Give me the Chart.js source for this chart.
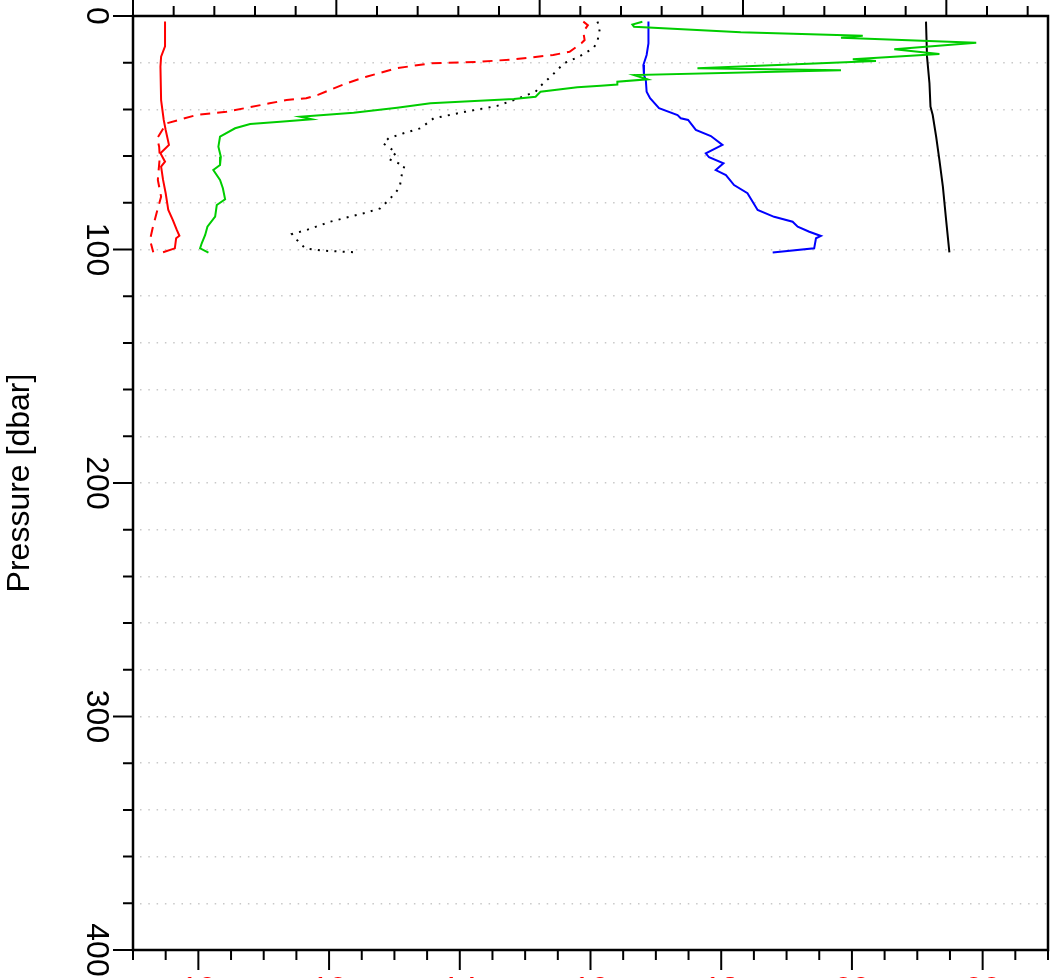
<!DOCTYPE html>
<html><head><meta charset="utf-8">
<script src="https://cdn.jsdelivr.net/npm/chart.js@4/dist/chart.umd.min.js"></script>
<style>html,body{margin:0;padding:0;background:#fff;overflow:hidden}canvas{display:block}</style>
</head><body>
<canvas id="c" width="1056" height="978"></canvas>
<script>
// ---- tick labels ----
const yTickLabels = [0, 100, 200, 300, 400];
const bottomTickLabels = [10, 12, 14, 16, 18, 20, 22];
const topTickLabels = [30, 31, 32, 33, 34];
const yTitle = 'Pressure [dbar]';

// ---- series (bottom axis) ----
const redSolidX = [9.49,9.49,9.43,9.42,9.43,9.47,9.50,9.55,9.42,9.49,9.43,9.46,9.50,9.54,9.61,9.67,9.71,9.66,9.64,9.46];
const redSolidP = [2.4,13,17.4,21.7,36,44.5,48.8,55.2,58.8,62.4,64.5,70.2,75.9,83.1,87.4,91.6,94.1,95.2,99.5,101.2];

const redDashX = [15.89,15.96,15.89,15.91,15.86,15.68,15.43,14.81,14.31,13.54,13.03,12.57,12.27,12.01,11.83,11.65,11.35,11.09,10.43,9.97,9.51,9.37,9.40,9.41,9.38,9.43,9.36,9.30,9.26,9.31];
const redDashP = [2.4,3.9,6.7,10.3,11.7,15.3,16.7,18.6,19.6,20.3,22.4,26,28.8,31.7,33.8,35.2,36,37.4,41,42.4,46,52.4,56,60.3,70.2,77.4,84.5,90.9,95.9,101.2];

// ---- series (top axis) ----
const greenX = [32.505,32.456,32.464,32.989,33.589,33.482,34.147,33.744,33.966,33.540,33.654,32.776,33.482,32.464,32.530,32.382,32.382,32.300,32.185,32.004,31.980,31.873,31.463,31.299,31.085,30.822,30.880,30.724,30.576,30.502,30.428,30.420,30.432,30.428,30.395,30.428,30.442,30.453,30.412,30.404,30.366,30.355,30.338,30.330,30.371];
const greenP = [2.44,3.64,4.58,6.98,8.44,9.29,11.43,14.26,16.27,18.54,19.27,22.40,23.25,25.27,27.11,28.14,29.34,29.85,30.54,32.42,34.56,35.55,37.39,39.27,41.41,43.13,44.24,45.27,46.25,48.09,51.69,55.97,60.26,63.81,65.95,70.24,73.79,78.5,80.94,85.95,90.24,93.79,97.34,99.49,101.37];

const dotX = [32.284,32.296,32.284,32.264,32.193,32.119,32.062,32.004,31.980,31.873,31.791,31.635,31.479,31.413,31.331,31.257,31.230,31.266,31.295,31.262,31.335,31.323,31.312,31.290,31.216,31.134,30.970,30.855,30.782,30.806,30.847,30.937,31.093];
const dotP = [2.4,5.3,11,13.8,17.4,20.3,25.3,30,32.4,36,38.5,41,43.8,48.1,50.2,52.4,54.5,56.7,58.5,61.4,64.2,67.4,73.1,75.9,82.4,84.5,88.1,91.6,93.4,95.9,99.5,100.5,101.2];

const blueX = [32.535,32.535,32.526,32.510,32.513,32.522,32.526,32.543,32.587,32.678,32.694,32.730,32.768,32.842,32.899,32.817,32.833,32.904,32.866,32.916,32.956,33.022,33.072,33.153,33.244,33.269,33.326,33.383,33.359,33.350,33.146];
const blueP = [2.4,11.7,16.7,21,25.3,27.4,32.4,35.2,39.5,42.4,43.8,44.5,48.8,51.4,55.2,58.8,60.5,63.1,66,68.1,72.4,75.9,83.1,86,88.1,90.2,92.4,94.2,95.2,99.5,101.3];

const blackX = [33.900,33.905,33.917,33.922,33.933,33.950,33.966,33.983,33.999,34.015];
const blackP = [2.4,17.4,28.8,38.8,42.4,51.7,61.7,73.1,87.4,101.2];

// ---- chart ----
const FONT = "'Liberation Sans', Arial, Helvetica, sans-serif";
const pts = (xs, ps) => xs.map((x, i) => ({x: x, y: ps[i]}));
function ds(xs, ps, color, axis, dash) {
  return {
    data: pts(xs, ps), xAxisID: axis, yAxisID: 'y',
    borderColor: color, borderWidth: 2, borderDash: dash || [],
    pointRadius: 0, tension: 0, fill: false
  };
}

const axesPlugin = {
  id: 'axesBox',
  afterDraw(chart) {
    const {ctx, chartArea: a, scales} = chart;
    ctx.save();
    ctx.strokeStyle = '#000';
    ctx.lineCap = 'butt';
    ctx.lineWidth = 2;
    ctx.beginPath();
    for (let v = 0; v <= 400; v += 20) {
      const y = scales.y.getPixelForValue(v);
      const len = yTickLabels.includes(v) ? 20 : 10;
      ctx.moveTo(a.left - len, y); ctx.lineTo(a.left, y);
    }
    for (let i = 0; i <= 28; i++) {
      const v = 9 + i * 0.5;
      const x = scales.x.getPixelForValue(v);
      const len = bottomTickLabels.includes(v) ? 20 : 10;
      ctx.moveTo(x, a.bottom); ctx.lineTo(x, a.bottom + len);
    }
    for (let i = 0; i <= 22; i++) {
      const v = 30 + i * 0.2;
      const x = scales.x2.getPixelForValue(v);
      const len = (i % 5 === 0) ? 20 : 10;
      ctx.moveTo(x, a.top - len); ctx.lineTo(x, a.top);
    }
    ctx.stroke();
    ctx.lineWidth = 2.5;
    ctx.strokeRect(a.left, a.top, a.right - a.left, a.bottom - a.top);
    ctx.restore();
  }
};

new Chart(document.getElementById('c').getContext('2d'), {
  type: 'line',
  data: {
    datasets: [
      ds(redSolidX, redSolidP, '#ff0000', 'x'),
      ds(redDashX, redDashP, '#ff0000', 'x', [10, 7]),
      ds(greenX, greenP, '#00cd00', 'x2'),
      ds(dotX, dotP, '#000000', 'x2', [2, 6.3]),
      ds(blueX, blueP, '#0000ff', 'x2'),
      ds(blackX, blackP, '#000000', 'x2')
    ]
  },
  options: {
    responsive: false, animation: false, devicePixelRatio: 1,
    layout: {padding: {left: 0, right: 8, top: 0, bottom: 0}},
    plugins: {legend: {display: false}, tooltip: {enabled: false}},
    scales: {
      x: {
        type: 'linear', position: 'bottom', min: 9, max: 23,
        afterBuildTicks: s => { s.ticks = bottomTickLabels.map(v => ({value: v})); },
        afterFit: s => { s.height = 28; s.paddingLeft = 0; s.paddingRight = 0; },
        grid: {display: false, drawTicks: false}, border: {display: false},
        ticks: {color: '#ff0000', font: {family: FONT, size: 32}, padding: 21, maxRotation: 0, autoSkip: false}
      },
      x2: {
        type: 'linear', position: 'top', min: 30, max: 34.5,
        afterBuildTicks: s => { s.ticks = topTickLabels.map(v => ({value: v})); },
        afterFit: s => { s.height = 16; s.paddingLeft = 0; s.paddingRight = 0; },
        grid: {display: false, drawTicks: false}, border: {display: false},
        ticks: {display: false}
      },
      y: {
        type: 'linear', position: 'left', reverse: true, min: 0, max: 400,
        afterFit: s => { s.width = 133; s.paddingTop = 0; s.paddingBottom = 0; },
        grid: {color: '#c8c8c8', lineWidth: 1.5, drawTicks: false},
        border: {display: false, dash: [1.5, 6.8], dashOffset: 1.3},
        ticks: {
          stepSize: 20, autoSkip: false,
          callback: v => yTickLabels.includes(v) ? String(v) : '',
          color: '#000', font: {family: FONT, size: 32},
          minRotation: -90, maxRotation: -90, crossAlign: 'center', padding: 10.7
        },
        title: {display: true, text: yTitle, color: '#000', font: {family: FONT, size: 32}, padding: {top: 1.4, bottom: 0}}
      }
    }
  },
  plugins: [axesPlugin]
});
</script>
</body></html>
